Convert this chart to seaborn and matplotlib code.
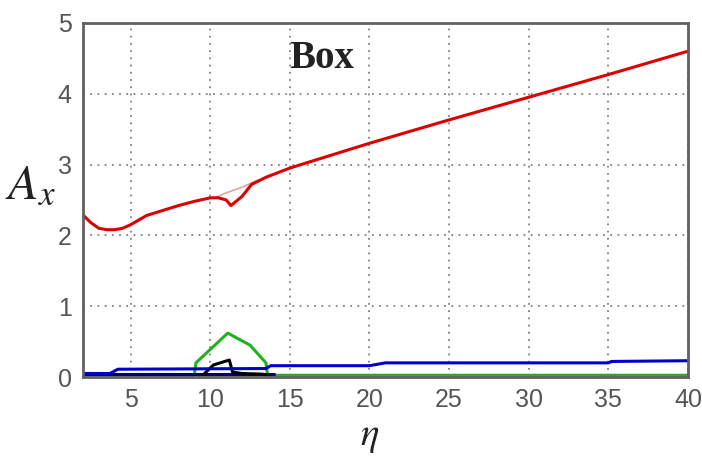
import numpy as np
import pandas as pd
import matplotlib
matplotlib.use("Agg")
import matplotlib.pyplot as plt
import seaborn as sns

# curvas (eta vs A_x)
red_x = [2, 2.5, 3, 3.5, 4, 4.5, 5, 6, 7, 8, 9, 10, 10.5, 11, 11.3, 12, 12.6, 13.5, 15, 20, 25, 30, 35, 40]
red_y = [2.29, 2.18, 2.1, 2.08, 2.08, 2.1, 2.15, 2.28, 2.35, 2.42, 2.48, 2.53, 2.53, 2.5, 2.42, 2.55, 2.72, 2.82, 2.95, 3.3, 3.63, 3.95, 4.27, 4.6]

red2_x = [10.3, 11, 12, 13]
red2_y = [2.53, 2.6, 2.68, 2.78]

green_x = [2, 9, 9.1, 11.1, 12.5, 13.5, 13.6, 40]
green_y = [0.025, 0.025, 0.2, 0.62, 0.45, 0.2, 0.025, 0.025]

navy_x = [2, 4, 9, 13.5, 14]
navy_y = [0.04, 0.04, 0.04, 0.04, 0.04]

blue_x = [2, 3.7, 4.2, 13.5, 13.8, 20, 21, 35, 35.2, 40]
blue_y = [0.05, 0.05, 0.11, 0.12, 0.16, 0.16, 0.2, 0.2, 0.22, 0.23]

black_x = [9.6, 10.2, 11.2, 11.4, 12, 13.3, 13.5]
black_y = [0.04, 0.17, 0.24, 0.07, 0.05, 0.04, 0.03]

xticks = [5, 10, 15, 20, 25, 30, 35, 40]
yticks = [0, 1, 2, 3, 4, 5]

sns.set_style("white")
plt.rcParams['font.family'] = ['Liberation Sans', 'DejaVu Sans']
plt.rcParams['mathtext.fontset'] = 'stix'

fig = plt.figure(figsize=(7.02, 4.57), dpi=100)
ax = fig.add_axes([0.118, 0.175, 0.862, 0.775])

sns.lineplot(x=green_x, y=green_y, color='#22b022', linewidth=2.2, ax=ax)
sns.lineplot(x=navy_x, y=navy_y, color='#000070', linewidth=2.2, ax=ax)
sns.lineplot(x=black_x, y=black_y, color='black', linewidth=2.2, ax=ax)
sns.lineplot(x=blue_x, y=blue_y, color='#0000cc', linewidth=2.2, ax=ax)
sns.lineplot(x=red2_x, y=red2_y, color='#e06060', linewidth=1.2, alpha=0.6, ax=ax)
sns.lineplot(x=red_x, y=red_y, color='#dd0000', linewidth=2.2, ax=ax)

ax.set_xlim(2, 40)
ax.set_ylim(0, 5)
ax.set_xticks(xticks)
ax.set_yticks(yticks)
ax.grid(True, linestyle=(0, (1, 3)), color='#808080', linewidth=1.3)
ax.tick_params(direction='in', length=4, width=1.2, colors='#555555',
               labelsize=18, pad=8)
for s in ax.spines.values():
    s.set_color('#606060')
    s.set_linewidth(2)

ax.set_xlabel(r'$\eta$', fontsize=28, color='#222222', va='center')
ax.xaxis.set_label_coords(0.474, -0.17)
ax.set_ylabel(r'$A_x$', fontsize=36, rotation=0, color='#222222', va='center')
ax.yaxis.set_label_coords(-0.086, 0.54)

ax.text(17, 4.5, 'Box', fontsize=28, fontweight='bold', family='Liberation Serif',
        ha='center', va='center', color='#222222')

fig.savefig('out.png', dpi=100)
